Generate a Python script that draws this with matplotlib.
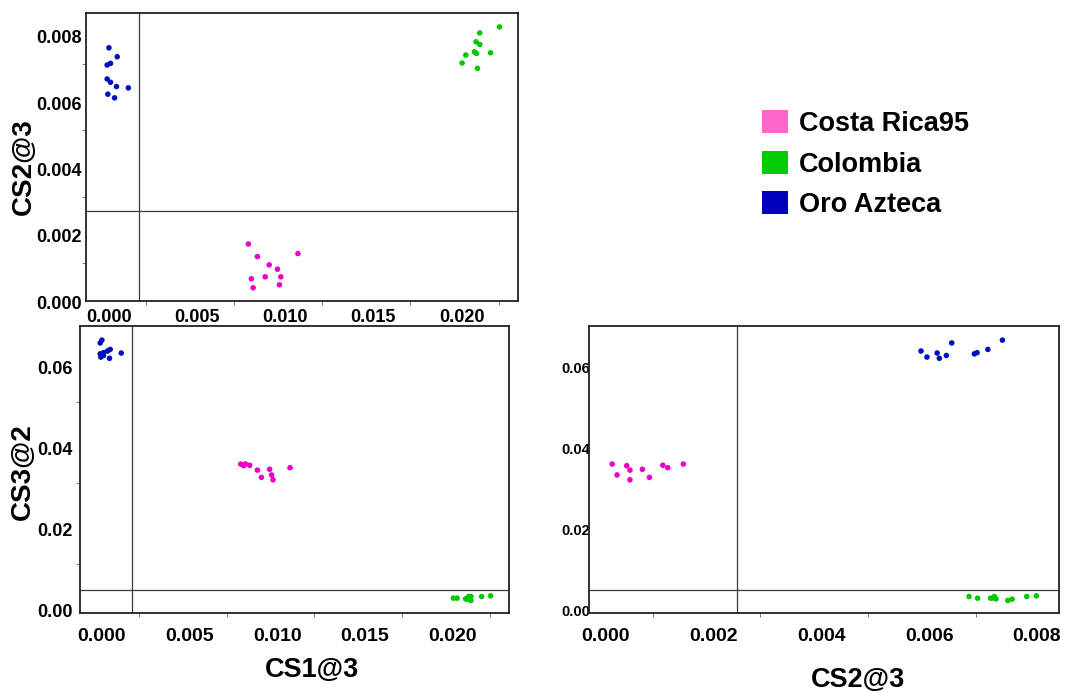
import matplotlib
matplotlib.use("Agg")
import matplotlib.pyplot as plt
from matplotlib.patches import Patch
from matplotlib.transforms import ScaledTranslation
import numpy as np

plt.rcParams['font.family'] = ['Liberation Sans', 'DejaVu Sans']
plt.rcParams['font.weight'] = 'bold'

# data: three coffee groups, canonical scores
groups = ["Costa Rica95", "Colombia", "Oro Azteca"]
legend_colors = ["#ff66cc", "#00cc00", "#0000bb"]
point_colors = ["#e800c8", "#00c800", "#0010c0"]

cr_cs1 = [0.00831, 0.00882, 0.01112, 0.00949, 0.00996, 0.00848, 0.00926, 0.01015, 0.01007, 0.00858]
cr_cs2 = [0.00157, 0.00119, 0.00128, 0.00094, 0.00081, 0.00052, 0.00058, 0.00058, 0.00034, 0.00025]
cr_cs3 = [0.0347, 0.0344, 0.0338, 0.0314, 0.0334, 0.0343, 0.0332, 0.0308, 0.0320, 0.0347]

co_cs1 = [0.02255, 0.02143, 0.02122, 0.02143, 0.02113, 0.02124, 0.02064, 0.02204, 0.02043, 0.02130]
co_cs2 = [0.00812, 0.00794, 0.00767, 0.00759, 0.00737, 0.00732, 0.00727, 0.00734, 0.00703, 0.00687]
co_cs3 = [0.00205, 0.00188, 0.00124, 0.00089, 0.00130, 0.00150, 0.00148, 0.00188, 0.00148, 0.00188]

oa_cs1 = [0.00040, 0.00087, 0.00030, 0.00049, 0.00030, 0.00049, 0.00083, 0.00150, 0.00034, 0.00072]
oa_cs2 = [0.00749, 0.00722, 0.00697, 0.00702, 0.00655, 0.00645, 0.00632, 0.00628, 0.00609, 0.00598]
oa_cs3 = [0.0654, 0.0631, 0.0620, 0.0623, 0.0647, 0.0616, 0.0609, 0.0622, 0.0612, 0.0627]

# reference (cut-off) lines
cut_cs1 = 0.0021
cut_cs2 = 0.00257
cut_cs3 = 0.0035

cs1 = [cr_cs1, co_cs1, oa_cs1]
cs2 = [cr_cs2, co_cs2, oa_cs2]
cs3 = [cr_cs3, co_cs3, oa_cs3]

fig = plt.figure(figsize=(10.65, 6.92), dpi=100)
W, H = 1065, 692

def box(l, r, t, b):
    return [l / W, 1 - b / H, (r - l) / W, (b - t) / H]

ax1 = fig.add_axes(box(86, 518, 13, 301))
ax2 = fig.add_axes(box(80, 509, 326, 613))
ax3 = fig.add_axes(box(589, 1059, 326, 613))

def scatter_all(ax, xs, ys):
    for x, y, c in zip(xs, ys, point_colors):
        ax.scatter(x, y, s=16, color=c, edgecolors='none', zorder=3)

scatter_all(ax1, cs1, cs2)
scatter_all(ax2, cs1, cs3)
scatter_all(ax3, cs2, cs3)

lc = '#3a3a3a'
ax1.axvline(cut_cs1, color=lc, lw=0.9)
ax1.axhline(cut_cs2, color=lc, lw=0.9)
ax2.axvline(cut_cs1, color=lc, lw=0.9)
ax2.axhline(cut_cs3, color=lc, lw=0.9)
ax3.axvline(cut_cs2, color=lc, lw=0.9)
ax3.axhline(cut_cs3, color=lc, lw=0.9)

ax1.set_xlim(-0.0009, 0.0236)
ax1.set_ylim(-0.00015, 0.00854)
ax2.set_xlim(-0.00085, 0.0236)
ax2.set_ylim(-0.0022, 0.0689)
ax3.set_xlim(-0.00018, 0.00854)
ax3.set_ylim(-0.0022, 0.0689)

ax1.set_xticks([0, 0.005, 0.010, 0.015, 0.020])
ax1.set_xticklabels(['0.000', '0.005', '0.010', '0.015', '0.020'])
ax1.set_xticks([0.0025, 0.0075, 0.0125, 0.0175, 0.0225], minor=True)
ax1.set_yticks([0, 0.002, 0.004, 0.006, 0.008])
ax1.set_yticklabels(['0.000', '0.002', '0.004', '0.006', '0.008'])
ax1.set_yticks([0.001, 0.003, 0.005, 0.007], minor=True)

ax2.set_xticks([0, 0.005, 0.010, 0.015, 0.020])
ax2.set_xticklabels(['0.000', '0.005', '0.010', '0.015', '0.020'])
ax2.set_xticks([0.0025, 0.0075, 0.0125, 0.0175, 0.0225], minor=True)
ax2.set_yticks([0, 0.02, 0.04, 0.06])
ax2.set_yticklabels(['0.00', '0.02', '0.04', '0.06'])
ax2.set_yticks([0.01, 0.03, 0.05], minor=True)

ax3.set_xticks([0, 0.002, 0.004, 0.006, 0.008])
ax3.set_xticklabels(['0.000', '0.002', '0.004', '0.006', '0.008'])
ax3.set_xticks([0.001, 0.003, 0.005, 0.007], minor=True)
ax3.set_yticks([0, 0.02, 0.04, 0.06])
ax3.set_yticklabels(['0.00', '0.02', '0.04', '0.06'])

for ax in (ax1, ax2, ax3):
    for s in ax.spines.values():
        s.set_linewidth(1.3)
        s.set_color('#222222')
    ax.tick_params(which='major', length=0)
    ax.tick_params(which='minor', length=3, width=0.7, color='#777777')

ax1.tick_params(axis='x', labelsize=13, pad=6)
ax1.tick_params(axis='y', labelsize=13, pad=3)
ax2.tick_params(axis='x', labelsize=14, pad=11)
ax2.tick_params(axis='y', labelsize=13, pad=5)
ax3.tick_params(axis='x', labelsize=14, pad=11)
ax3.tick_params(axis='y', labelsize=10.5, pad=-1)

# the scanned figure has its tick labels shifted a little right / down
shift_x = ScaledTranslation(7 / 100, 0, fig.dpi_scale_trans)
shift_y = ScaledTranslation(0, -6 / 100, fig.dpi_scale_trans)
for ax in (ax1, ax2, ax3):
    for lab in ax.get_xticklabels():
        lab.set_transform(lab.get_transform() + shift_x)
    for lab in ax.get_yticklabels():
        lab.set_transform(lab.get_transform() + shift_y)

# axis titles
fig.text(24 / W, 1 - 167 / H, 'CS2@3', rotation=90, ha='center', va='center',
         fontsize=20, fontweight='bold')
fig.text(23 / W, 1 - 472 / H, 'CS3@2', rotation=90, ha='center', va='center',
         fontsize=20, fontweight='bold')
fig.text(312 / W, 1 - 670 / H, 'CS1@3', ha='center', va='center',
         fontsize=19.5, fontweight='bold')
fig.text(858 / W, 1 - 680 / H, 'CS2@3', ha='center', va='center',
         fontsize=19.5, fontweight='bold')

handles = [Patch(facecolor=c, edgecolor='none') for c in legend_colors]
fig.legend(handles, groups, loc='upper left', bbox_to_anchor=(762 / W, 1 - 110 / H),
           frameon=False, handlelength=0.95, handleheight=0.95,
           handletextpad=0.42, labelspacing=0.5, borderpad=0, borderaxespad=0,
           prop={'weight': 'bold', 'size': 19.5})

fig.savefig('out.png', dpi=100)
